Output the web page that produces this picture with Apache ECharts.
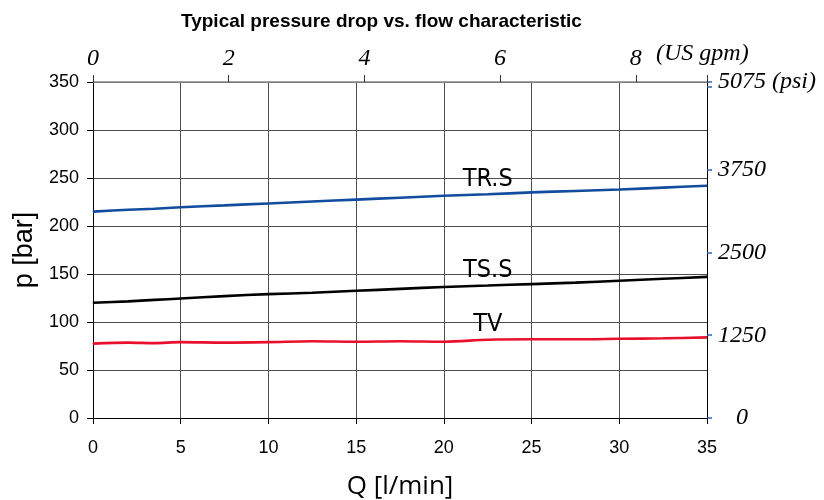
<!DOCTYPE html>
<html>
<head>
<meta charset="utf-8">
<script src="https://cdn.jsdelivr.net/npm/echarts@6/dist/echarts.min.js"></script>
<style>html,body{margin:0;padding:0;background:#fff}#c{width:824px;height:500px}</style>
</head>
<body>
<div id="c"></div>
<script>
// Flow Q [l/min] sample points
const qValues = [0, 2, 3.5, 5, 7.5, 10, 12.5, 15, 17.5, 20, 22.5, 25, 27.5, 30, 32.5, 35];
// Pressure p [bar]
const pTRS = [215, 217, 218, 219.5, 221.5, 223.5, 225.5, 227.5, 229.5, 231.5, 233, 235, 236.5, 238, 240, 242];
const pTSS = [120, 121.5, 123, 124.5, 127, 129, 130.5, 132.5, 134.5, 136.5, 138, 139.5, 141, 143, 145, 147];
const pTV  = [77.5, 78.5, 78, 79, 78.5, 79, 80, 79.5, 80, 79.5, 81.5, 82, 82, 82.5, 83, 84];
const seriesNames = ['TR.S', 'TS.S', 'TV'];
const labelIndex = 10; // point where the series name is written
// Secondary scales
const gpmTicks = [0, 2, 4, 6, 8];
const gpmMax = 9.05;
const psiTicks = [0, 1250, 2500, 3750, 5075];
const psiMax = 5075;

function build(name, q, p, color) {
  return {
    name: name, type: 'line', xAxisIndex: 0, yAxisIndex: 0,
    showSymbol: true, showAllSymbol: true, symbol: 'circle', symbolSize: 1, smooth: 0.3,
    itemStyle: { color: color },
    label: { show: false },
    lineStyle: { color: color, width: 2.6 },
    data: q.map((x, i) => {
      if (i === labelIndex) {
        return { value: [x, p[i]], label: { show: true, formatter: name, position: 'top', distance: 2,
          color: '#000', fontSize: 25, fontFamily: "'Liberation Sans Narrow', 'DejaVu Sans Condensed', 'Liberation Sans'" } };
      }
      return [x, p[i]];
    })
  };
}

const chart = echarts.init(document.getElementById('c'), null, { renderer: 'canvas' });
const serif = 'Liberation Serif';
chart.setOption({
  animation: false,
  backgroundColor: '#fff',
  title: {
    text: 'Typical pressure drop vs. flow characteristic',
    left: 176, top: 7,
    textStyle: { fontSize: 19, fontWeight: 'bold', fontFamily: 'Liberation Sans', color: '#000' }
  },
  grid: { left: 93, right: 117, top: 82, bottom: 82, containLabel: false, outerBoundsMode: 'none' },
  xAxis: [
    {
      type: 'value', position: 'bottom', min: 0, max: 35, interval: 5,
      axisLine: { onZero: false, lineStyle: { color: '#000', width: 1 } },
      axisTick: { show: true, inside: false, length: 6, lineStyle: { color: '#000' } },
      axisLabel: { fontSize: 18, color: '#000', margin: 21, fontFamily: 'Liberation Sans' },
      splitLine: { show: true, lineStyle: { color: '#4d4d4d', width: 1 } },
      name: 'Q [l/min]', nameLocation: 'middle', nameGap: 56, nameMoveOverlap: false,
      nameTextStyle: { fontSize: 26, color: '#000', fontFamily: 'Open Sans' }
    },
    {
      type: 'value', position: 'top', min: 0, max: gpmMax, interval: 2,
      axisLine: { onZero: false, lineStyle: { color: '#888', width: 1.5 } },
      axisTick: { show: true, inside: false, length: 7, lineStyle: { color: '#333' } },
      axisLabel: { customValues: gpmTicks, fontSize: 24, color: '#000', fontStyle: 'italic', fontFamily: serif, margin: 11 },
      splitLine: { show: false },
      name: '(US gpm)', nameLocation: 'end', nameGap: -51, nameMoveOverlap: false,
      nameTextStyle: { fontSize: 24, color: '#000', fontStyle: 'italic', fontFamily: serif,
        align: 'left', verticalAlign: 'bottom', padding: [0, 0, 16, 0] }
    }
  ],
  yAxis: [
    {
      type: 'value', position: 'left', min: 0, max: 350, interval: 50,
      axisLine: { show: true, onZero: false, lineStyle: { color: '#000', width: 1 } },
      axisTick: { show: true, inside: false, length: 6, lineStyle: { color: '#000' } },
      axisLabel: { fontSize: 18, color: '#000', margin: 14, fontFamily: 'Liberation Sans' },
      splitLine: { show: true, lineStyle: { color: '#4d4d4d', width: 1 } },
      name: 'p [bar]', nameLocation: 'middle', nameGap: 55, nameRotate: 90, nameMoveOverlap: false,
      nameTextStyle: { fontSize: 27, color: '#000', fontFamily: 'Liberation Sans' }
    },
    {
      type: 'value', position: 'right', min: 0, max: psiMax, interval: 1250,
      axisLine: { show: true, onZero: false, lineStyle: { color: '#000', width: 1 } },
      axisTick: { show: true, inside: false, length: 5, lineStyle: { color: '#2f66b0', width: 1.5 } },
      axisLabel: {
        customValues: psiTicks, fontSize: 24, color: '#000', fontStyle: 'italic', fontFamily: serif, margin: 11,
        formatter: v => v === psiMax ? v + ' (psi)' : (v === 0 ? '   0' : String(v))
      },
      splitLine: { show: false }
    }
  ],
  series: [
    build(seriesNames[0], qValues, pTRS, '#114c9e'),
    build(seriesNames[1], qValues, pTSS, '#000000'),
    build(seriesNames[2], qValues, pTV, '#e8102c')
  ]
});
</script>
</body>
</html>
